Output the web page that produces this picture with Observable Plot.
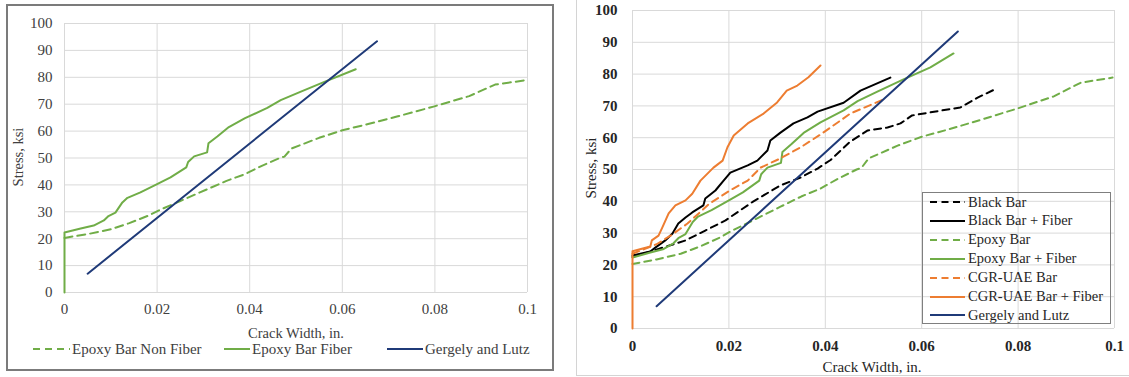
<!DOCTYPE html>
<html><head><meta charset="utf-8">
<script src="https://cdn.jsdelivr.net/npm/d3@7"></script>
<script src="https://cdn.jsdelivr.net/npm/@observablehq/plot@0.6"></script>
<style>
body{margin:0;background:#fff;font-family:"Liberation Serif","DejaVu Serif",serif;}
#wrap{position:relative;width:1129px;height:377px;overflow:hidden;background:#fff;}
#wrap svg text{font-family:"Liberation Serif","DejaVu Serif",serif;}
.abs{position:absolute;white-space:nowrap;}
.t{transform:translate(-50%,-50%);}
.rot{transform:translate(-50%,-50%) rotate(-90deg);}
.leg{position:absolute;display:flex;align-items:center;white-space:nowrap;}
.leg svg{display:block;}
</style></head>
<body><div id="wrap"></div>
<script>
// ---- data ----
const xTicks = [0, 0.02, 0.04, 0.06, 0.08, 0.1];
const xTickLabels = ["0", "0.02", "0.04", "0.06", "0.08", "0.1"];
const yTicks = [0, 10, 20, 30, 40, 50, 60, 70, 80, 90, 100];

const epoxyBar = [[0,20.3],[0.005,21.7],[0.01,23.5],[0.014,25.8],[0.018,28.5],[0.0207,30.8],[0.025,34],[0.0307,38.3],[0.035,41.5],[0.039,44],[0.0425,47],[0.0465,50],[0.0475,50.5],[0.049,53.5],[0.055,57.5],[0.06,60.3],[0.066,62.8],[0.072,65.5],[0.0799,69.2],[0.0874,73],[0.093,77.3],[0.0996,78.9]];
const epoxyFiberLeft = [[0,0],[0,22.3],[0.0035,23.8],[0.0063,24.9],[0.0085,26.8],[0.0095,28.4],[0.011,29.7],[0.0125,33.5],[0.0136,35.2],[0.0164,37.2],[0.02,40.3],[0.0229,42.8],[0.0263,46.5],[0.0267,48.5],[0.028,50.6],[0.0308,52.1],[0.0311,55.5],[0.033,58],[0.0355,61.5],[0.039,64.8],[0.0438,68.6],[0.0467,71.5],[0.0508,74.5],[0.056,78.2],[0.0629,83]];
const epoxyFiberRight = [[0,22.3],[0.0035,23.8],[0.0063,24.9],[0.0085,26.8],[0.0095,28.4],[0.011,29.7],[0.0125,33.5],[0.0136,35.2],[0.0164,37.2],[0.02,40.3],[0.0229,42.8],[0.0263,46.5],[0.0267,48.5],[0.028,50.6],[0.0308,52.1],[0.0311,55.5],[0.033,58],[0.0355,61.5],[0.039,64.8],[0.0438,68.6],[0.0467,71.5],[0.0508,74.5],[0.056,78.2],[0.0618,82.1],[0.0666,86.5]];
const blackBar = [[0,22.5],[0.0075,26],[0.011,27.7],[0.0151,30.8],[0.0193,34],[0.0251,40],[0.0307,45],[0.0349,47.5],[0.0384,50.3],[0.0411,53],[0.0452,58.8],[0.0488,62.3],[0.0529,63.2],[0.0556,64.5],[0.058,67],[0.0639,68.5],[0.068,69.5],[0.0716,72.6],[0.0749,75]];
const blackFiber = [[0,23],[0.0037,24.2],[0.0048,25.5],[0.0068,27.7],[0.0083,29.9],[0.0095,33],[0.011,34.9],[0.0124,36.5],[0.0147,38.7],[0.0151,40.9],[0.0172,43.4],[0.0189,46.5],[0.0203,49],[0.0239,51.3],[0.0259,52.8],[0.028,56],[0.0286,59.1],[0.0307,61.6],[0.0334,64.5],[0.0363,66.4],[0.0384,68.2],[0.0438,71],[0.0473,74.8],[0.0535,78.9]];
const cgrBar = [[0,23.5],[0.005,26.5],[0.0079,29.2],[0.0114,33],[0.016,39.3],[0.0203,43.5],[0.0239,46.5],[0.0266,50.6],[0.0307,53.5],[0.0349,57],[0.039,61],[0.0452,67.6],[0.0525,72.3]];
const cgrFiber = [[0,0],[0,24.3],[0.0037,25.8],[0.004,27.7],[0.0054,29.2],[0.0062,31.8],[0.0075,36.2],[0.0089,38.7],[0.011,40.3],[0.0124,42.4],[0.0141,46.5],[0.0168,50.6],[0.0187,52.8],[0.0197,57],[0.021,60.7],[0.0239,64.5],[0.0272,67.6],[0.03,71.1],[0.032,74.8],[0.0342,76.4],[0.0365,79],[0.039,82.7]];
const gergelyLutz = [[0.005,7],[0.0675,93.4]];

const GREEN = "#70ad47", NAVY = "#1f3a78", ORANGE = "#ed7d31", BLACK = "#000000";
const FONT = "Liberation Serif";

function line(data, stroke, dash) {
  return Plot.line(data, {x: d => d[0], y: d => d[1], stroke, strokeWidth: 2, strokeDasharray: dash || null, strokeLinejoin: "round"});
}

function panel(o) {
  return Plot.plot({
    width: o.width, height: o.height,
    marginLeft: o.ml, marginRight: o.mr, marginTop: o.mt, marginBottom: o.mb,
    x: {domain: [0, 0.1]}, y: {domain: [0, 100]},
    style: {fontFamily: FONT, fontSize: "15px", color: o.color, background: "transparent", overflow: "visible"},
    marks: [
      Plot.gridX(xTicks, {stroke: "#d9d9d9", strokeOpacity: 1, strokeWidth: 1}),
      Plot.gridY(yTicks, {stroke: "#d9d9d9", strokeOpacity: 1, strokeWidth: 1}),
      Plot.axisX(xTicks, {tickSize: 0, tickPadding: o.padX, fontSize: 15, fontFamily: FONT, fontWeight: o.weight, tickFormat: d => xTickLabels[xTicks.indexOf(d)], label: null}),
      Plot.axisY(yTicks, {tickSize: 0, tickPadding: o.padY, fontSize: 15, fontFamily: FONT, fontWeight: o.weight, label: null}),
      ...o.marks
    ]
  });
}

const wrap = document.getElementById("wrap");

const frame = document.createElement("div");
frame.className = "abs";
Object.assign(frame.style, {left: "6px", top: "4px", width: "544px", height: "363px", border: "2px solid #7b7b7b"});
wrap.appendChild(frame);
const frame2 = document.createElement("div");
frame2.className = "abs";
Object.assign(frame2.style, {left: "576px", top: "-2px", width: "560px", height: "376px", border: "1px solid #d4d4d4"});
wrap.appendChild(frame2);

const left = panel({width: 560, height: 377, ml: 64, mr: 33, mt: 23, mb: 85, padX: 11, padY: 12, color: "#404040", weight: "normal",
  marks: [line(epoxyBar, GREEN, "8,5"), line(epoxyFiberLeft, GREEN), line(gergelyLutz, NAVY)]});
left.style.position = "absolute"; left.style.left = "0px"; left.style.top = "0px";
wrap.appendChild(left);

const right = panel({width: 559, height: 377, ml: 62, mr: 15, mt: 10, mb: 49, padX: 12, padY: 15, color: "#262626", weight: "bold",
  marks: [line(blackBar, BLACK, "7,5"), line(blackFiber, BLACK), line(epoxyBar, GREEN, "7,5"), line(epoxyFiberRight, GREEN),
          line(cgrBar, ORANGE, "7,5"), line(cgrFiber, ORANGE), line(gergelyLutz, NAVY)]});
right.style.position = "absolute"; right.style.left = "570px"; right.style.top = "0px";
wrap.appendChild(right);

function label(text, x, y, cls, size, color) {
  const d = document.createElement("div");
  d.className = "abs " + cls;
  Object.assign(d.style, {left: x + "px", top: y + "px", fontSize: size + "px", color, fontFamily: FONT});
  d.textContent = text;
  wrap.appendChild(d);
}
label("Crack Width, in.", 296, 333, "t", 14.5, "#404040");
label("Stress, ksi", 18, 157, "rot", 14.5, "#404040");
label("Crack Width, in.", 872, 367, "t", 15, "#262626");
label("Stress, ksi", 591, 168, "rot", 15, "#262626");

function swatch(w, color, dash) {
  return `<svg width="${w}" height="6"><line x1="0" x2="${w}" y1="3" y2="3" stroke="${color}" stroke-width="2" ${dash ? `stroke-dasharray="${dash}"` : ""}/></svg>`;
}
const leftLegend = [
  {name: "Epoxy Bar Non Fiber", color: GREEN, dash: "7,5", x: 33, w: 37},
  {name: "Epoxy Bar Fiber", color: GREEN, dash: null, x: 224, w: 26},
  {name: "Gergely and Lutz", color: NAVY, dash: null, x: 387, w: 36}
];
leftLegend.forEach(l => {
  const d = document.createElement("div");
  d.className = "leg";
  Object.assign(d.style, {left: l.x + "px", top: "339px", height: "20px", fontSize: "15px", color: "#404040", fontFamily: FONT});
  d.innerHTML = swatch(l.w, l.color, l.dash) + `<span style="margin-left:2px">${l.name}</span>`;
  wrap.appendChild(d);
});

const rightLegend = [
  {name: "Black Bar", color: BLACK, dash: "7,4.5"},
  {name: "Black Bar + Fiber", color: BLACK, dash: null},
  {name: "Epoxy Bar", color: GREEN, dash: "7,4.5"},
  {name: "Epoxy Bar + Fiber", color: GREEN, dash: null},
  {name: "CGR-UAE Bar", color: ORANGE, dash: "7,4.5"},
  {name: "CGR-UAE Bar + Fiber", color: ORANGE, dash: null},
  {name: "Gergely and Lutz", color: NAVY, dash: null}
];
const box = document.createElement("div");
box.className = "abs";
Object.assign(box.style, {left: "922px", top: "192px", width: "187px", height: "130px", border: "1px solid #7f7f7f"});
wrap.appendChild(box);
rightLegend.forEach((l, i) => {
  const d = document.createElement("div");
  d.className = "leg";
  Object.assign(d.style, {left: "930px", top: (192 + i * 18.9) + "px", height: "20px", fontSize: "14.5px", color: "#262626", fontFamily: FONT});
  d.innerHTML = swatch(35, l.color, l.dash) + `<span style="margin-left:3px">${l.name}</span>`;
  wrap.appendChild(d);
});
</script>
</body></html>
